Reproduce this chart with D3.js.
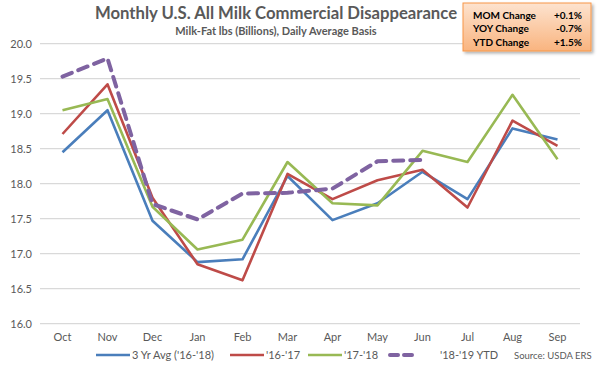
<!DOCTYPE html>
<html>
<head>
<meta charset="utf-8">
<script src="https://cdn.jsdelivr.net/npm/d3@7"></script>
<style>
body{margin:0;background:#fff;}
svg{font-family:Lato,"Open Sans",sans-serif;}
</style>
</head>
<body>
<svg id="chart" width="600" height="367"></svg>
<script>
var mois = ["Oct","Nov","Dec","Jan","Feb","Mar","Apr","May","Jun","Jul","Aug","Sep"];
var moy3ans = [18.45,19.05,17.47,16.88,16.92,18.11,17.48,17.72,18.17,17.78,18.79,18.63];
var an1617 = [18.71,19.42,17.80,16.85,16.62,18.14,17.78,18.05,18.20,17.66,18.90,18.54];
var an1718 = [19.05,19.21,17.67,17.06,17.20,18.31,17.72,17.69,18.47,18.31,19.27,18.35];
var an1819 = [19.53,19.79,17.71,17.49,17.86,17.87,17.93,18.32,18.34];
var yTicks = [16.0,16.5,17.0,17.5,18.0,18.5,19.0,19.5,20.0];
var encadre = [["MOM Change","+0.1%"],["YOY Change","-0.7%"],["YTD Change","+1.5%"]];

var series = [
  {nom:"3 Yr Avg ('16-'18)", vals:moy3ans, couleur:"#4a7ebb", dash:null, w:2.6},
  {nom:"'16-'17", vals:an1617, couleur:"#be4b48", dash:null, w:2.6},
  {nom:"'17-'18", vals:an1718, couleur:"#98b954", dash:null, w:2.6},
  {nom:"'18-'19 YTD", vals:an1819, couleur:"#7f63a1", dash:"10,7", w:4}
];

var svg = d3.select("#chart");
var gris = "#595959";

var x = d3.scaleBand().domain(mois).range([40,580]);
var y = d3.scaleLinear().domain([16,20]).range([323.7,43.7]);

//---------------- grille + axes ----------------
svg.append("g").selectAll("line").data(yTicks).enter().append("line")
  .attr("x1",40).attr("x2",580)
  .attr("y1",function(d){return y(d);}).attr("y2",function(d){return y(d);})
  .attr("stroke","#d9d9d9").attr("stroke-width",1.3);

svg.append("g").selectAll("text").data(yTicks).enter().append("text")
  .attr("x",32).attr("y",function(d){return y(d)+4;})
  .attr("text-anchor","end").attr("font-size",11).attr("fill",gris)
  .text(function(d){return d.toFixed(1);});

svg.append("g").selectAll("text").data(mois).enter().append("text")
  .attr("x",function(d){return x(d)+x.bandwidth()/2;}).attr("y",341)
  .attr("text-anchor","middle").attr("font-size",11).attr("fill",gris)
  .text(function(d){return d;});

//---------------- courbes ----------------
var ligne = d3.line()
  .x(function(d,i){return x(mois[i])+x.bandwidth()/2;})
  .y(function(d){return y(d);});

series.forEach(function(s){
  svg.append("path")
    .attr("d",ligne(s.vals))
    .attr("fill","none")
    .attr("stroke",s.couleur)
    .attr("stroke-width",s.w)
    .attr("stroke-dasharray",s.dash)
    .attr("stroke-linecap",s.dash?"round":"butt")
    .attr("stroke-linejoin","round");
});

//---------------- titres ----------------
svg.append("text").attr("x",276).attr("y",19).attr("text-anchor","middle")
  .attr("font-size",16.7).attr("font-weight","bold").attr("fill",gris)
  .text("Monthly U.S. All Milk Commercial Disappearance");
svg.append("text").attr("x",276).attr("y",35).attr("text-anchor","middle")
  .attr("font-size",11).attr("font-weight","bold").attr("fill",gris)
  .text("Milk-Fat lbs (Billions), Daily Average Basis");

//---------------- légende ----------------
var legX = [96,230,308,390];
var legTxt = [132,266,344,440];
series.forEach(function(s,i){
  svg.append("line")
    .attr("x1",legX[i]).attr("x2",i==3?legX[i]+25:legX[i]+34)
    .attr("y1",355).attr("y2",355)
    .attr("stroke",s.couleur).attr("stroke-width",s.w)
    .attr("stroke-dasharray",s.dash?"8,6":null)
    .attr("stroke-linecap",s.dash?"round":"butt");
  svg.append("text").attr("x",legTxt[i]).attr("y",359)
    .attr("font-size",11).attr("fill",gris).text(s.nom);
});
svg.append("text").attr("x",514).attr("y",359)
  .attr("font-size",9.5).attr("fill",gris).text("Source: USDA ERS");

//---------------- encadré ----------------
var defs = svg.append("defs");
var grad = defs.append("linearGradient").attr("id","orange").attr("x1",0).attr("y1",0).attr("x2",0).attr("y2",1);
grad.append("stop").attr("offset","0%").attr("stop-color","#fde3cf");
grad.append("stop").attr("offset","100%").attr("stop-color","#f9b47f");
var ombre = defs.append("filter").attr("id","ombre").attr("x","-10%").attr("y","-10%").attr("width","130%").attr("height","140%");
ombre.append("feDropShadow").attr("dx",2).attr("dy",2).attr("stdDeviation",1.5).attr("flood-color","#000").attr("flood-opacity",0.3);

svg.append("rect").attr("x",463).attr("y",3).attr("width",128).attr("height",48)
  .attr("fill","url(#orange)").attr("stroke","#f79646").attr("stroke-width",1)
  .attr("filter","url(#ombre)");

encadre.forEach(function(r,i){
  svg.append("text").attr("x",473).attr("y",19+i*13.3)
    .attr("font-size",10).attr("font-weight","bold").attr("fill","#000").text(r[0]);
  svg.append("text").attr("x",582).attr("y",19+i*13.3).attr("text-anchor","end")
    .attr("font-size",10).attr("font-weight","bold").attr("fill","#000").text(r[1]);
});
</script>
</body>
</html>
